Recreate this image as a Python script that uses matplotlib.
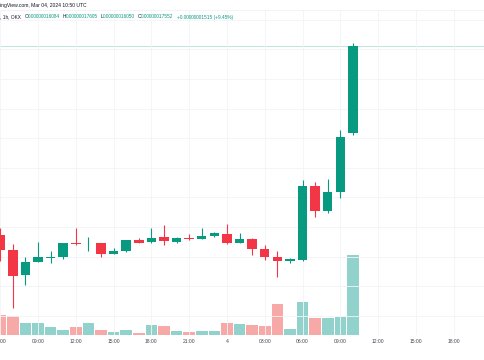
import matplotlib
matplotlib.use("Agg")
import matplotlib.pyplot as plt
import matplotlib.dates as mdates
from matplotlib.ticker import FuncFormatter, MultipleLocator
import pandas as pd
import numpy as np

# ---- data (prices in units of 1e-11) ----
times = pd.date_range("2024-03-03 06:00", periods=29, freq="h")
opens = [14365, 14112, 13690, 13909, 13985, 14002, 14230, 14222, 14230, 14044,
         14100, 14281, 14242, 14326, 14252, 14320, 14303, 14348, 14382, 14225,
         14306, 14129, 13999, 13931, 13943, 15193, 14771, 15086, 16084]
highs = [14483, 14213, 13994, 14247, 14100, 14230, 14483, 14331, 14238, 14146,
         14281, 14314, 14483, 14534, 14323, 14382, 14488, 14421, 14551, 14399,
         14314, 14196, 14100, 13982, 15294, 15265, 15311, 16139, 17605]
lows = [13926, 13132, 13521, 13901, 13892, 13960, 14196, 14100, 13999, 14036,
        14078, 14222, 14225, 14196, 14235, 14289, 14298, 14336, 14213, 14222,
        14027, 13943, 13661, 13892, 13934, 14674, 14737, 14990, 16050]
closes = [14112, 13673, 13909, 13994, 13994, 14230, 14218, 14233, 14044, 14100,
          14281, 14235, 14314, 14269, 14314, 14298, 14348, 14399, 14225, 14303,
          14129, 13999, 13931, 13965, 15193, 14771, 15086, 16025, 17552]
volume = [20, 19, 12, 12, 8, 5.3, 7.7, 12, 5, 2.7, 5, 2.3, 10.3, 9, 4, 3,
          4.3, 4.3, 12.3, 11.3, 10, 9, 30.7, 6.3, 33, 16.7, 17, 18.3, 80]

header1 = "ingView.com, Mar 04, 2024 10:50 UTC"
legend_parts = [(", 1h, OKX", "dark", 3.5), ("O", "dark", 0), ("0.00000016084", "val", 2.5),
                ("H", "dark", 0), ("0.00000017605", "val", 2.5), ("L", "dark", 0),
                ("0.00000016050", "val", 2.5), ("C", "dark", 0), ("0.00000017552", "val", 3.5),
                ("+0.00000001515 (+9.45%)", "val", 0)]

UP = "#089981"
DOWN = "#F23645"
VUP = "#92D2CC"
VDOWN = "#F7A9A7"
DARK = "#131722"
GRID = "#F3F4F7"

plt.rcParams['font.family'] = ['Liberation Sans', 'DejaVu Sans']

W, H = 485, 360
fig = plt.figure(figsize=(W / 100, H / 100), dpi=100)
ax = fig.add_axes([0, 25 / H, 1, 325 / H])
axv = ax.twinx()
ax.set_zorder(2)
ax.patch.set_visible(False)
axv.set_zorder(1)

x = mdates.date2num(times.to_pydatetime())
hour = 1 / 24.0
up = np.array(closes) >= np.array(opens)

# volume
vcols = [VUP if u else VDOWN for u in up]
axv.bar(x, volume, width=0.92 * hour, color=vcols, align="center", linewidth=0)
axv.set_ylim(0, 325)
axv.set_yticks([])

# candles
for xi, o, h, l, c, u in zip(x, opens, highs, lows, closes, up):
    col = UP if u else DOWN
    ax.vlines(xi, l, h, color=col, linewidth=0.8, zorder=3)
    if abs(c - o) >= 8:
        bot, ht = min(o, c), abs(c - o)
    else:
        bot, ht = (o + c) / 2 - 4, 8
    ax.bar(xi, ht, bottom=bot, width=0.75 * hour, color=col, linewidth=0, zorder=4)

# price line
ax.axhline(closes[-1], color=UP, alpha=0.3, linewidth=0.6, zorder=1)

x0 = mdates.date2num(pd.Timestamp("2024-03-03 05:59").to_pydatetime())
x1 = mdates.date2num(pd.Timestamp("2024-03-04 20:29").to_pydatetime())
ax.set_xlim(x0, x1)
axv.set_xlim(x0, x1)
# pane spans y = 10..335 px
ax.set_ylim(17000 - (335 - 79) * 16.89, 17000 + (79 - 10) * 16.89)

ax.yaxis.set_major_locator(MultipleLocator(500))
ax.set_yticklabels([])
ax.tick_params(axis="y", length=0)
ax.xaxis.set_major_locator(mdates.HourLocator(byhour=range(0, 24, 3)))


def fmt(v, pos):
    d = mdates.num2date(v)
    if d.hour == 0:
        return str(d.day)
    return d.strftime("%H:%M")


ax.xaxis.set_major_formatter(FuncFormatter(fmt))
ax.tick_params(axis="x", length=0, pad=3, labelsize=3.6, labelcolor="#434651")
ax.grid(True, color=GRID, linewidth=0.6)
for s in ["left", "right", "bottom"]:
    ax.spines[s].set_visible(False)
    axv.spines[s].set_visible(False)
ax.spines["top"].set_color("#F0F1F4")
ax.spines["top"].set_linewidth(0.6)
axv.spines["top"].set_visible(False)

# cropped price-scale label markers at right edge
ax.plot([1, 1], [closes[-1] - 30, closes[-1] + 30], transform=ax.get_yaxis_transform(),
        color=UP, linewidth=2.0, clip_on=False, alpha=0.6)
axv.plot([1, 1], [volume[-1] - 3, volume[-1] + 3], transform=axv.get_yaxis_transform(),
         color="#26a69a", linewidth=2.0, clip_on=False, alpha=0.5)

# header text
fig.text(0, 1 - 6 / H, header1, fontsize=3.6, color=DARK, va="center", ha="left")
fig.canvas.draw()
r = fig.canvas.get_renderer()
xpos = 0.0
for txt, kind, gap in legend_parts:
    t = fig.text(xpos / W, 1 - 17 / H, txt, fontsize=3.45,
                 color=UP if kind == "val" else DARK, va="center", ha="left")
    bb = t.get_window_extent(renderer=r)
    xpos += bb.width + gap

fig.savefig("out.png", dpi=100)
